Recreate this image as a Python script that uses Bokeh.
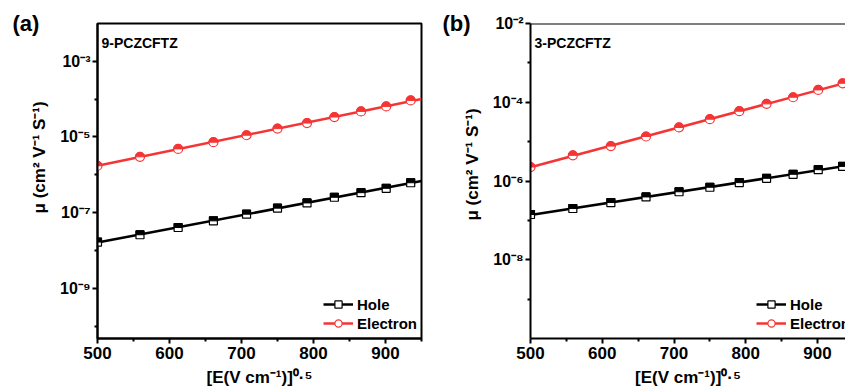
import numpy as np
from bokeh.plotting import figure
from bokeh.layouts import row
from bokeh.models import (FixedTicker, CustomJSTickFormatter, Label, Legend,
                          LegendItem, Span, Range1d)
from bokeh.embed import file_html
from bokeh.resources import INLINE

# ---------------- data ----------------
field_sqrt = [500, 559, 612, 661, 707, 750, 791, 829, 866, 901, 935]

hole_a = [1.66e-8, 2.59e-8, 4.03e-8, 6.05e-8, 9.08e-8, 1.31e-7,
          1.80e-7, 2.54e-7, 3.36e-7, 4.38e-7, 6.15e-7]
electron_a = [1.73e-6, 2.98e-6, 4.83e-6, 7.26e-6, 1.11e-5, 1.66e-5,
              2.33e-5, 3.36e-5, 4.74e-5, 6.42e-5, 9.24e-5]

hole_b = [1.41e-7, 2.00e-7, 2.84e-7, 3.94e-7, 5.33e-7, 6.93e-7,
          9.10e-7, 1.17e-6, 1.48e-6, 1.94e-6, 2.35e-6]
electron_b = [2.26e-6, 4.48e-6, 7.69e-6, 1.35e-5, 2.29e-5, 3.71e-5,
              5.92e-5, 9.10e-5, 1.34e-4, 2.06e-4, 3.03e-4]

x_major = [500, 600, 700, 800, 900]
x_minor = [550, 650, 750, 850, 950]

X_LABEL = "[E(V cm\u207b\u00b9)]\u2070\u00b7\u2075"
Y_LABEL = "\u03bc (cm\u00b2 V\u207b\u00b9 S\u207b\u00b9)"

FONT = "Liberation Sans"
RED = "#f53535"
BLACK = "#000000"

SUP = "{'-':'\u207b','0':'\u2070','1':'\u00b9','2':'\u00b2','3':'\u00b3','4':'\u2074','5':'\u2075','6':'\u2076','7':'\u2077','8':'\u2078','9':'\u2079'}"
fmt = CustomJSTickFormatter(code="""
const sup = %s;
const e = Math.round(Math.log10(tick));
return '10' + String(e).split('').map(c => sup[c]).join('');
""" % SUP)

FRAME_H = 315


def panel(width, left, right, x_end, y_start, ymaj, ymin, hole, elec,
          tag, name, ypad, outline):
    p = figure(width=width, height=391, y_axis_type="log",
               x_range=Range1d(500, x_end), y_range=Range1d(y_start, 1e-2),
               output_backend="svg", toolbar_location=None,
               min_border_left=left, min_border_right=right,
               min_border_top=23, min_border_bottom=53)
    p.grid.visible = False
    p.background_fill_color = "white"
    p.border_fill_color = "white"
    if outline:
        p.outline_line_color = BLACK
        p.outline_line_width = 2
        p.outline_line_alpha = 1
    else:
        p.outline_line_color = None
        p.add_layout(Span(location=1e-2, dimension="width",
                          line_color=BLACK, line_width=2))

    px_per_x = (width - left - right) / (x_end - 500.0)
    px_per_dec = FRAME_H / (np.log10(1e-2) - np.log10(y_start))

    p.title.text = tag
    p.title.align = "left"
    p.title.offset = -left + 12
    p.title.vertical_align = "bottom"
    p.title.standoff = -24
    p.title.text_font = FONT
    p.title.text_font_style = "bold"
    p.title.text_font_size = "22px"
    p.title.text_color = BLACK

    p.xaxis.ticker = FixedTicker(ticks=x_major, minor_ticks=x_minor)
    p.yaxis.ticker = FixedTicker(ticks=ymaj, minor_ticks=ymin)
    p.yaxis.formatter = fmt
    for ax in (p.xaxis[0], p.yaxis[0]):
        ax.axis_line_width = 2
        ax.axis_line_color = BLACK
        ax.major_tick_line_width = 2
        ax.minor_tick_line_width = 2
        ax.major_tick_out = 5
        ax.major_tick_in = 0
        ax.minor_tick_out = 3
        ax.minor_tick_in = 0
        ax.major_label_text_font = FONT
        ax.major_label_text_font_style = "bold"
        ax.major_label_text_color = BLACK
        ax.axis_label_text_font = FONT
        ax.axis_label_text_font_style = "bold"
        ax.axis_label_text_font_size = "17px"
        ax.axis_label_text_color = BLACK
    p.xaxis.major_label_text_font_size = "17px"
    p.yaxis.major_label_text_font_size = "16px"
    p.xaxis.major_label_standoff = 3
    p.yaxis.major_label_standoff = 2
    p.xaxis.axis_label = X_LABEL
    p.xaxis.axis_label_standoff = 6
    p.yaxis.axis_label = "\u00a0" * ypad + Y_LABEL
    p.yaxis.axis_label_standoff = 8

    lx = np.array(field_sqrt, dtype=float)
    xs = np.array([500.0, x_end])
    theta = np.linspace(0, np.pi, 13)

    renderers = {}
    for vals, color, kind in ((hole, BLACK, "sq"), (elec, RED, "ci")):
        v = np.array(vals)
        k, b = np.polyfit(lx, np.log10(v), 1)
        ln = p.line(xs, 10 ** (k * xs + b), line_color=color, line_width=2.5)
        if kind == "sq":
            sc = p.scatter(lx, v, marker="square", size=8, fill_color="white",
                           line_color=color, line_width=1.2)
            hw = 4.0 / px_per_x
            hh = 4.0 / px_per_dec
            pxs = [[x - hw, x + hw, x + hw, x - hw] for x in lx]
            pys = [[y, y, y * 10 ** hh, y * 10 ** hh] for y in v]
        else:
            sc = p.scatter(lx, v, marker="circle", size=9, fill_color="white",
                           line_color=color, line_width=1.2)
            r = 4.5
            pxs = [list(x + r * np.cos(theta) / px_per_x) for x in lx]
            pys = [list(y * 10 ** (r * np.sin(theta) / px_per_dec)) for y in v]
        p.patches(pxs, pys, fill_color=color, line_color=color, line_width=1)
        renderers[kind] = [ln, sc]

    legend = Legend(items=[LegendItem(label="Hole", renderers=renderers["sq"]),
                           LegendItem(label="Electron", renderers=renderers["ci"])],
                    location=(226, 6), orientation="vertical",
                    label_text_font=FONT, label_text_font_style="bold",
                    label_text_font_size="15px", label_text_color=BLACK,
                    glyph_width=30, glyph_height=18,
                    label_height=18, label_standoff=4, spacing=1, padding=0,
                    margin=0, border_line_color=None, background_fill_alpha=0)
    p.add_layout(legend)

    p.add_layout(Label(x=4, y=296, x_units="screen", y_units="screen",
                       text=name, text_font=FONT, text_font_style="bold",
                       text_font_size="14px", text_color=BLACK,
                       text_baseline="alphabetic"))
    return p


p1 = panel(430, 97, 9, 950, 10 ** -10.33,
           [1e-9, 1e-7, 1e-5, 1e-3], [1e-10, 1e-8, 1e-6, 1e-4],
           hole_a, electron_a, "(a)", "9-PCZCFTZ", 10, True)
p2 = panel(415, 100, 0, 939, 1e-10,
           [1e-8, 1e-6, 1e-4, 1e-2], [1e-9, 1e-7, 1e-5, 1e-3],
           hole_b, electron_b, "(b)", "3-PCZCFTZ", 7, False)

layout = row(p1, p2, spacing=0)
open("out.html", "w").write(file_html(layout, INLINE))
